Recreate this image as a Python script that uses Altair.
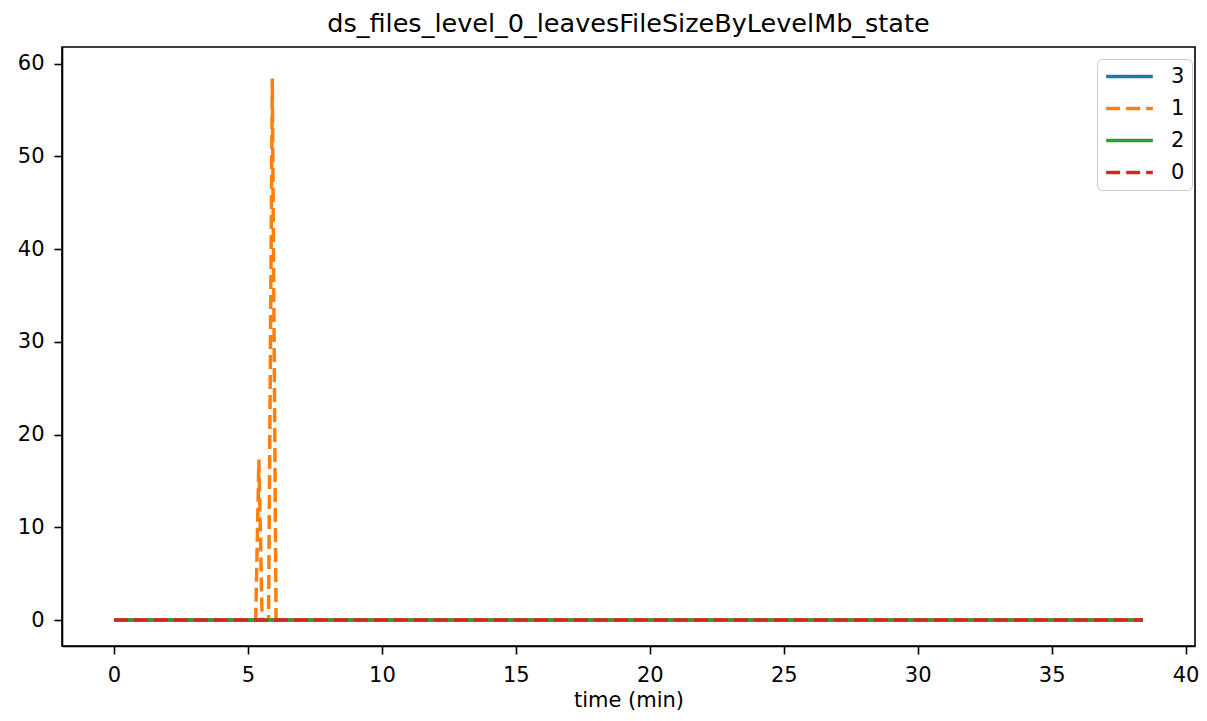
import altair as alt
import pandas as pd

# series data (time in minutes, value in Mb)
series_names = ["3", "1", "2", "0"]
t3 = [0.0, 38.4]
v3 = [0.0, 0.0]
t1 = [0.0, 5.29, 5.41, 5.53, 5.77, 5.91, 6.05, 38.4]
v1 = [0.0, 0.0, 17.3, 0.0, 0.0, 58.4, 0.0, 0.0]
t2 = [0.0, 38.4]
v2 = [0.0, 0.0]
t0 = [0.0, 38.4]
v0 = [0.0, 0.0]

colors = ["#1f77b4", "#ff7f0e", "#2ca02c", "#d62728"]
dashes = [[1, 0], [14, 6], [1, 0], [14, 6]]

rows = []
for order, (name, ts, vs) in enumerate(zip(series_names, [t3, t1, t2, t0], [v3, v1, v2, v0])):
    for i, (t, v) in enumerate(zip(ts, vs)):
        rows.append({"series": name, "time": t, "value": v, "order": order, "i": i})
df = pd.DataFrame(rows)

x_ticks = [0, 5, 10, 15, 20, 25, 30, 35, 40]
y_ticks = [0, 10, 20, 30, 40, 50, 60]

base = alt.Chart(df)
layers = []
for order, name in enumerate(series_names):
    layers.append(
        base.transform_filter(alt.datum.series == name)
        .mark_line(strokeWidth=3.5, strokeCap="butt")
        .encode(
            x=alt.X("time:Q", title="time (min)",
                    scale=alt.Scale(domain=[-1.94, 40.35], nice=False, zero=False),
                    axis=alt.Axis(values=x_ticks, grid=False, format="d",
                                  titleBaseline="alphabetic", titleY=60)),
            y=alt.Y("value:Q", title=None,
                    scale=alt.Scale(domain=[-2.8, 61.8], nice=False, zero=False),
                    axis=alt.Axis(values=y_ticks, grid=False, format="d")),
            color=alt.Color("series:N", scale=alt.Scale(domain=series_names, range=colors),
                            legend=alt.Legend(title=None, orient="none", legendX=1035, legendY=12,
                                              symbolType="stroke", symbolSize=2180,
                                              symbolStrokeWidth=3.5, labelFontSize=21,
                                              labelOffset=16, clipHeight=21, rowPadding=10,
                                              fillColor="white", strokeColor="#cccccc",
                                              cornerRadius=5, padding=7,
                                              labelFont="DejaVu Sans", labelColor="black")),
            strokeDash=alt.StrokeDash("series:N", scale=alt.Scale(domain=series_names, range=dashes),
                                      legend=None),
            order="i:Q",
        )
    )

chart = alt.layer(*layers).properties(
    width=1133,
    height=599,
    title=alt.TitleParams("ds_files_level_0_leavesFileSizeByLevelMb_state",
                          fontSize=25.5, fontWeight="normal", font="DejaVu Sans",
                          anchor="middle", frame="group", offset=10,
                          color="black"),
    autosize=alt.AutoSizeParams(type="none"),
    padding={"left": 54, "top": 39, "right": 4, "bottom": 66},
).configure_view(
    stroke="black", strokeWidth=1.6
).configure_axis(
    domainColor="black", tickColor="black", labelColor="black", titleColor="black",
    labelFont="DejaVu Sans", titleFont="DejaVu Sans",
    labelFontSize=21, titleFontSize=21, titleFontWeight="normal",
    tickSize=8, labelPadding=10, domainWidth=1.6, tickWidth=1.6,
)

chart.save("out.html", embed_options={"renderer": "svg", "actions": False})
